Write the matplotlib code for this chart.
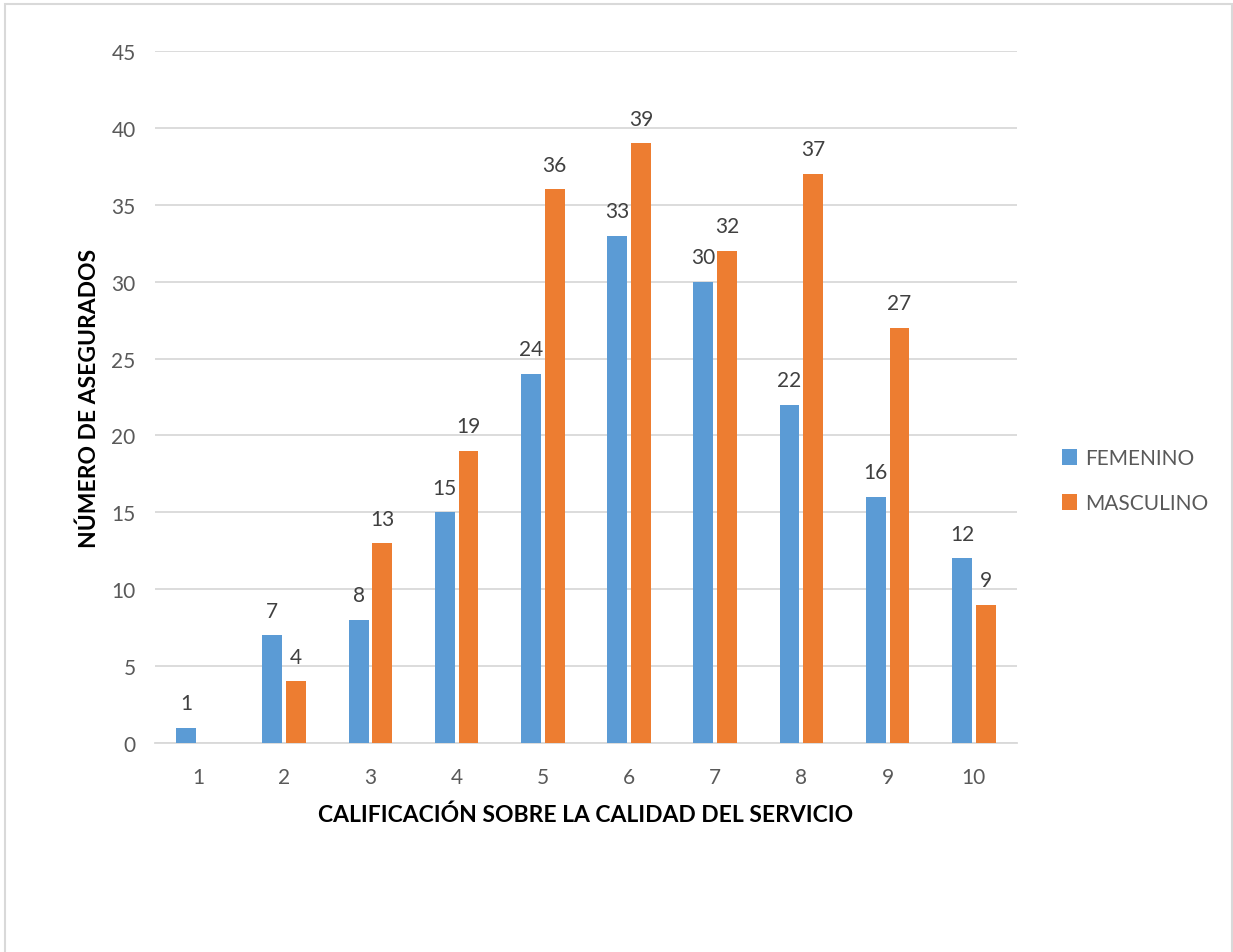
import numpy as np
import matplotlib.pyplot as plt
import matplotlib as mpl
from matplotlib.patches import Rectangle

mpl.rcParams.update({
    'font.family': ['Lato', 'DejaVu Sans'],
    'font.size': 14,
})

# ---------------------------------------------------------------------------
# Data
# ---------------------------------------------------------------------------
calificacion = ['1', '2', '3', '4', '5', '6', '7', '8', '9', '10']
femenino = [1, 7, 8, 15, 24, 33, 30, 22, 16, 12]
masculino = [0, 4, 13, 19, 36, 39, 32, 37, 27, 9]

C_FEM = '#5b9bd5'
C_MAS = '#ed7d31'
GRID = '#d9d9d9'
TXT = '#595959'

fig = plt.figure(figsize=(12.33, 9.53), dpi=100)
ax = fig.add_axes([0.1257, 0.2193, 0.6991, 0.7261])

x = np.arange(len(calificacion))
w = 0.23
off = 0.138
b1 = ax.bar(x - off, femenino, w, color=C_FEM, label='FEMENINO', zorder=3)
b2 = ax.bar(x + off, masculino, w, color=C_MAS, label='MASCULINO', zorder=3)

# value labels above bars (the empty bar gets none)
for rects, vals in ((b1, femenino), (b2, masculino)):
    for r, v in zip(rects, vals):
        if v == 0:
            continue
        ax.annotate(str(v), (r.get_x() + r.get_width() / 2, v),
                    xytext=(0, 10.5), textcoords='offset points',
                    ha='center', va='bottom', fontsize=15, color='#404040')

ax.set_xlim(-0.5, len(calificacion) - 0.5)
ax.set_ylim(0, 45)
ax.set_yticks(np.arange(0, 46, 5))
ax.set_xticks(x)
ax.set_xticklabels(calificacion)
ax.yaxis.grid(True, color=GRID, linewidth=1.3, zorder=0)
ax.set_axisbelow(True)
for s in ('top', 'right', 'left'):
    ax.spines[s].set_visible(False)
ax.spines['bottom'].set_color(GRID)
ax.spines['bottom'].set_linewidth(1.3)
ax.tick_params(axis='both', length=0, labelsize=15, labelcolor=TXT)
ax.tick_params(axis='y', pad=14)
ax.tick_params(axis='x', pad=17.5)

ax.set_xlabel('CALIFICACIÓN SOBRE LA CALIDAD DEL SERVICIO',
              fontsize=16.5, fontweight='bold', color='black', labelpad=12)
ax.set_ylabel('NÚMERO DE ASEGURADOS',
              fontsize=16.5, fontweight='bold', color='black', labelpad=8)

leg = ax.legend(loc='center left', bbox_to_anchor=(1.03, 0.379),
                frameon=False, fontsize=15, labelcolor=TXT,
                handlelength=0.75, handleheight=0.75, handletextpad=0.4,
                labelspacing=1.2)

# chart border
fig.patches.append(Rectangle((5 / 1233, -0.01), 1227 / 1233, 1 - 5 / 953 + 0.01,
                             transform=fig.transFigure, fill=False,
                             edgecolor='#d9d9d9', linewidth=1.5))

fig.savefig('out.png', dpi=100, facecolor='white')
